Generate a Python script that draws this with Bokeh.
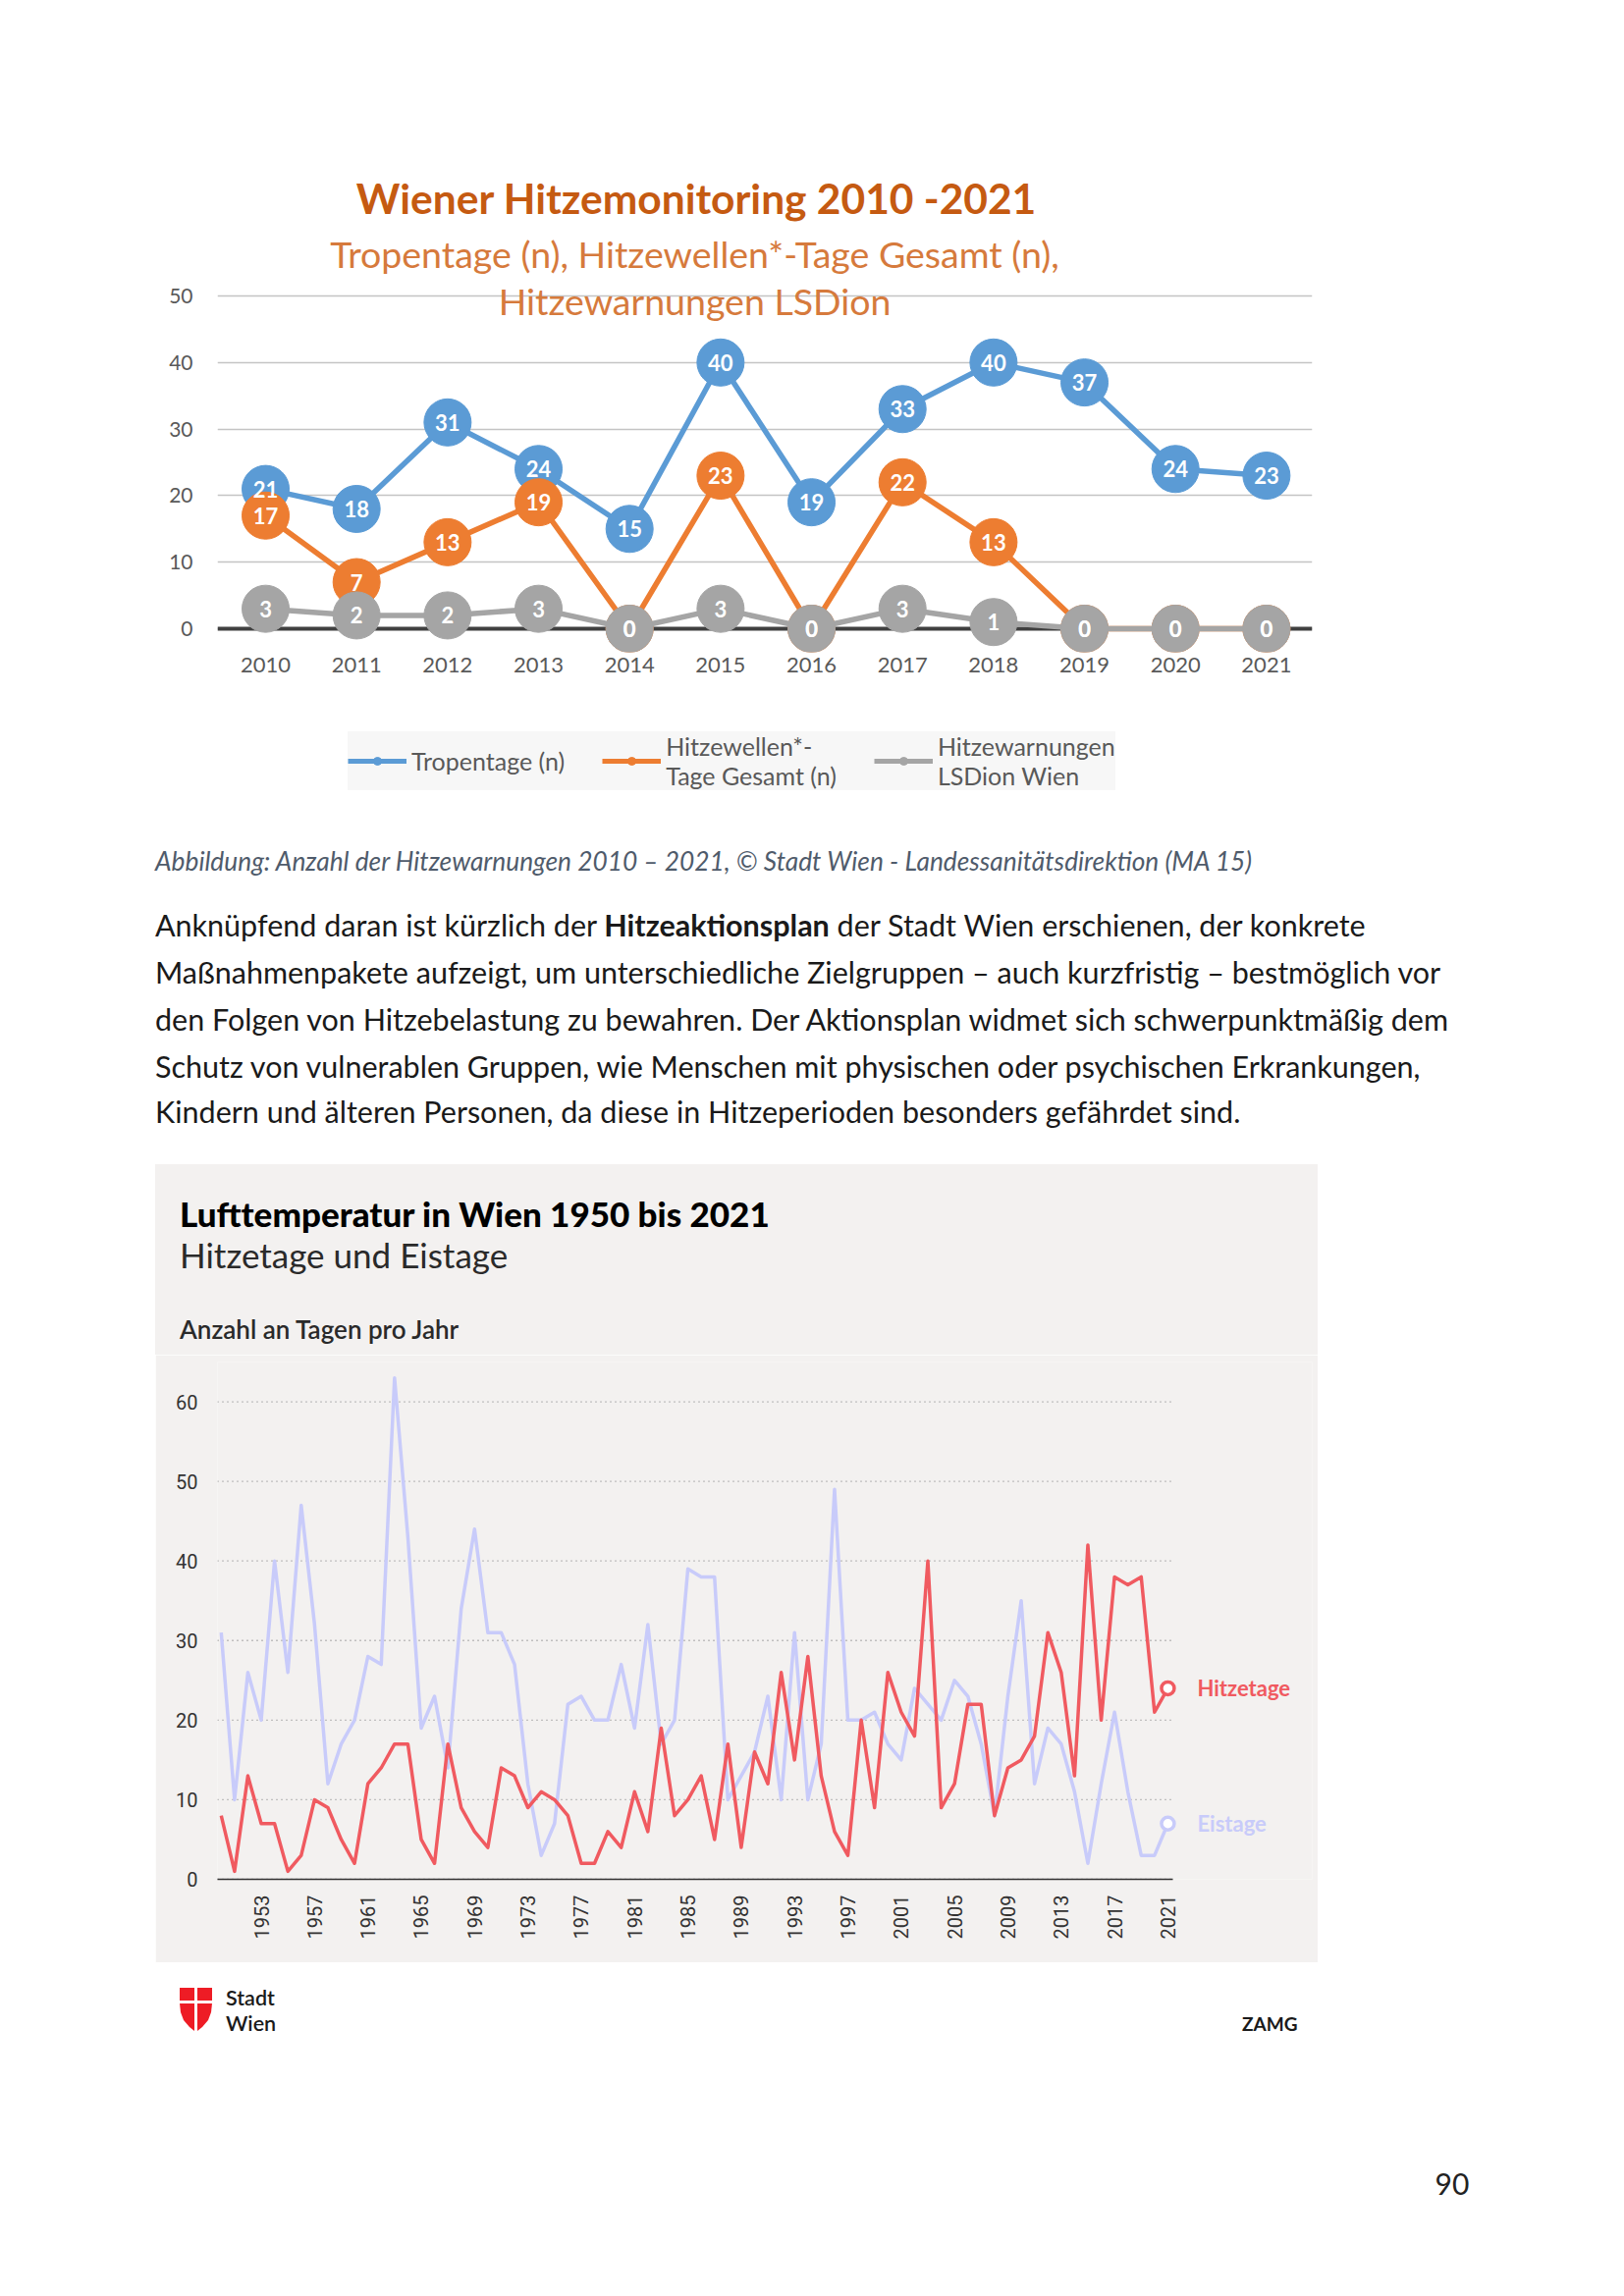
import math
from bokeh.plotting import figure
from bokeh.models import (Range1d, FixedTicker, Label, Span, Legend, LegendItem,
                          Spacer, ColumnDataSource, Div)
from bokeh.layouts import column, row
from bokeh.embed import file_html
from bokeh.resources import INLINE
from bokeh.core.properties import value

# ------------------------------------------------------------------ data
# Top chart: Wiener Hitzemonitoring 2010-2021
hm_years = [2010, 2011, 2012, 2013, 2014, 2015, 2016, 2017, 2018, 2019, 2020, 2021]
tropentage = [21, 18, 31, 24, 15, 40, 19, 33, 40, 37, 24, 23]
hitzewellen = [17, 7, 13, 19, 0, 23, 0, 22, 13, 0, 0, 0]
hitzewarnungen = [3, 2, 2, 3, 0, 3, 0, 3, 1, 0, 0, 0]
hm_yticks = [0, 10, 20, 30, 40, 50]

# Bottom chart: Hitzetage und Eistage 1950-2021
years = list(range(1950, 2022))
hitzetage = [8, 1, 13, 7, 7, 1, 3, 10, 9, 5,
             2, 12, 14, 17, 17, 5, 2, 17, 9, 6,
             4, 14, 13, 9, 11, 10, 8, 2, 2, 6,
             4, 11, 6, 19, 8, 10, 13, 5, 17, 4,
             16, 12, 26, 15, 28, 13, 6, 3, 20, 9,
             26, 21, 18, 40, 9, 12, 22, 22, 8, 14,
             15, 18, 31, 26, 13, 42, 20, 38, 37, 38,
             21, 24]
eistage = [31, 10, 26, 20, 40, 26, 47, 32, 12, 17,
           20, 28, 27, 63, 43, 19, 23, 14, 34, 44,
           31, 31, 27, 12, 3, 7, 22, 23, 20, 20,
           27, 19, 32, 17, 20, 39, 38, 38, 10, 13,
           16, 23, 10, 31, 10, 17, 49, 20, 20, 21,
           17, 15, 24, 22, 20, 25, 23, 17, 8, 23,
           35, 12, 19, 17, 11, 2, 12, 21, 11, 3,
           3, 7]
lt_xticks = [1953, 1957, 1961, 1965, 1969, 1973, 1977, 1981, 1985, 1989,
             1993, 1997, 2001, 2005, 2009, 2013, 2017, 2021]
lt_yticks = [0, 10, 20, 30, 40, 50, 60]

# ------------------------------------------------------------------ style
FONT = "Lato"
PAGE_W = 1640
BLUE, ORANGE, GRAY = "#5B9BD5", "#ED7D31", "#A5A5A5"
RED, LAV = "#F05A60", "#C8CBFA"
BOX_BG = "#F3F1F0"


def add_label(p, x, y, text, size, color, style="normal", align="left"):
    p.add_layout(Label(x=x, y=y, text=text, x_units="screen", y_units="screen",
                       text_font=FONT, text_font_size=f"{size}px",
                       text_font_style=style, text_color=color,
                       text_align=align, text_baseline="middle"))


def abs_text(x, cy, text, size, color="#1a1a1a", weight="normal", style="normal",
             lh=None, width=None, align="left"):
    lh = lh or round(size * 1.4)
    extra = f"width:{width}px;text-align:{align};" if width else ""
    return (f'<div style="position:absolute;left:{x}px;top:{cy - lh / 2:.1f}px;'
            f'line-height:{lh}px;font-family:{FONT};font-size:{size}px;'
            f'font-weight:{weight};font-style:{style};color:{color};'
            f'white-space:nowrap;{extra}">{text}</div>')


# ------------------------------------------------------------------ top chart
A_H = 700
A_L, A_R, A_T, A_B = 221, PAGE_W - 1336, 150, 36
pA = figure(width=PAGE_W, height=A_H, x_range=Range1d(2009.471, 2021.503),
            y_range=Range1d(-3.54, 72.27), output_backend="svg", toolbar_location=None,
            title=None, min_border_left=A_L, min_border_right=A_R,
            min_border_top=A_T, min_border_bottom=A_B)
pA.outline_line_color = None
pA.background_fill_color = "white"
pA.border_fill_color = "white"
pA.xgrid.visible = False
pA.yaxis.ticker = FixedTicker(ticks=hm_yticks)
pA.ygrid.grid_line_color = "#C4C4C4"
pA.ygrid.grid_line_width = 1.5
pA.xaxis.ticker = FixedTicker(ticks=hm_years)
for ax in (pA.xaxis[0], pA.yaxis[0]):
    ax.axis_line_color = None
    ax.major_tick_line_color = None
    ax.minor_tick_line_color = None
    ax.major_label_text_font = FONT
    ax.major_label_text_color = "#595959"
pA.yaxis.major_label_text_font_size = "21px"
pA.yaxis.major_label_standoff = 19
pA.xaxis.major_label_text_font_size = "22px"
pA.xaxis.major_label_standoff = -1

pA.add_layout(Span(location=0, dimension="width", line_color="#404040", line_width=4,
                   level="underlay"))

src = ColumnDataSource(dict(x=hm_years, t=tropentage, h=hitzewellen, w=hitzewarnungen,
                            tl=[str(v) for v in tropentage],
                            hl=[str(v) for v in hitzewellen],
                            wl=[str(v) for v in hitzewarnungen]))
series = [("t", "tl", BLUE, "Tropentage (n)"),
          ("h", "hl", ORANGE, "Hitzewellen*-\nTage Gesamt (n)"),
          ("w", "wl", GRAY, "Hitzewarnungen\nLSDion Wien")]
for col, _, colr, _ in series:
    pA.line("x", col, source=src, line_color=colr, line_width=5.5, line_join="round")
    pA.scatter("x", col, source=src, size=48, marker="circle",
               fill_color=colr, line_color=colr)
for col, lab, colr, _ in series:
    pA.text("x", col, text=lab, source=src, text_font=value(FONT), text_font_style="bold",
            text_font_size="22px", text_color="white", text_align="center",
            text_baseline="middle")

fb = A_H - A_B
add_label(pA, 709 - A_L, fb - 201, "Wiener Hitzemonitoring 2010 -2021", 42.5,
          "#C55A11", style="bold", align="center")
add_label(pA, 707 - A_L, fb - 258, "Tropentage (n), Hitzewellen*-Tage Gesamt (n),", 37.5,
          "#D67A3C", align="center")
add_label(pA, 707 - A_L, fb - 306, "Hitzewarnungen LSDion", 37.5, "#D67A3C", align="center")

# ------------------------------------------------------------------ legend strip of the top chart
# same series (same source) drawn outside this strip's visible range; only their legend keys show
L_H = 130
pL = figure(width=PAGE_W, height=L_H, x_range=Range1d(2009.471, 2021.503),
            y_range=Range1d(1000, 1001), x_axis_type=None, y_axis_type=None,
            output_backend="svg", toolbar_location=None, title=None,
            min_border_left=A_L, min_border_right=A_R, min_border_top=0, min_border_bottom=0)
pL.outline_line_color = None
pL.background_fill_color = "white"
pL.border_fill_color = "white"
items = []
for col, _, colr, name in series:
    ln = pL.line("x", col, source=src, line_color=colr, line_width=5, line_join="round")
    mk = pL.scatter("x", col, source=src, size=48, marker="circle",
                    fill_color=colr, line_color=colr)
    items.append(LegendItem(label=name, renderers=[ln, mk]))
legend = Legend(items=items, location=(133, 25), orientation="horizontal", glyph_width=60,
                glyph_height=20, label_standoff=5, spacing=38, padding=8, label_height=60,
                background_fill_color="#F7F7F7", background_fill_alpha=1.0,
                border_line_color=None, label_text_font=FONT, label_text_font_size="25px",
                label_text_color="#595959")
pL.add_layout(legend)

# ------------------------------------------------------------------ text block + chart header
M_TOP, M_H = 830, 550
caption = ("Abbildung: Anzahl der Hitzewarnungen 2010 \u2013 2021, \u00a9 Stadt Wien - "
           "Landessanit\u00e4tsdirektion (MA 15)")
para = [
    "Ankn\u00fcpfend daran ist k\u00fcrzlich der <b>Hitzeaktionsplan</b> der Stadt Wien erschienen, der konkrete",
    "Ma\u00dfnahmenpakete aufzeigt, um unterschiedliche Zielgruppen \u2013 auch kurzfristig \u2013 bestm\u00f6glich vor",
    "den Folgen von Hitzebelastung zu bewahren. Der Aktionsplan widmet sich schwerpunktm\u00e4\u00dfig dem",
    "Schutz von vulnerablen Gruppen, wie Menschen mit physischen oder psychischen Erkrankungen,",
    "Kindern und \u00e4lteren Personen, da diese in Hitzeperioden besonders gef\u00e4hrdet sind.",
]
para_cy = [942.6, 990.4, 1038.2, 1086.0, 1132.0]
parts = [f'<div style="position:relative;width:{PAGE_W}px;height:{M_H}px;margin:0;padding:0;">']
parts.append(abs_text(158, 877 - M_TOP, caption, 26.3, color="#4F5B6B", style="italic"))
for cy, line in zip(para_cy, para):
    parts.append(abs_text(158, cy - M_TOP, line, 30.5))
parts.append(f'<div style="position:absolute;left:158px;top:{1186 - M_TOP}px;width:1184px;'
             f'height:{M_H - (1186 - M_TOP)}px;background:{BOX_BG};"></div>')
parts.append(abs_text(183, 1236.5 - M_TOP, "Lufttemperatur in Wien 1950 bis 2021", 35,
                      color="#000000", weight="900"))
parts.append(abs_text(183, 1278 - M_TOP, "Hitzetage und Eistage", 35, color="#2a2a2a"))
parts.append(abs_text(183, 1354 - M_TOP, "Anzahl an Tagen pro Jahr", 26, color="#2a2a2a",
                      weight="600"))
parts.append("</div>")
mid = Div(text="".join(parts), width=PAGE_W, height=M_H, margin=0)

# ------------------------------------------------------------------ bottom chart
C_X, C_W, C_H = 158, 1184, 619
C_L, C_R, C_T, C_B = 63, 6, 7, 85
x_start = 1949.72
pC = figure(width=C_W, height=C_H, x_range=Range1d(x_start, 2031.83), y_range=Range1d(0, 65),
            output_backend="svg", toolbar_location=None, title=None,
            min_border_left=C_L, min_border_right=C_R, min_border_top=C_T,
            min_border_bottom=C_B)
pC.outline_line_color = None
pC.background_fill_color = BOX_BG
pC.border_fill_color = BOX_BG
pC.xgrid.visible = False
pC.ygrid.visible = False
pC.yaxis.ticker = FixedTicker(ticks=lt_yticks)
pC.xaxis.ticker = FixedTicker(ticks=lt_xticks)
grid_end = years[-1] + 0.4
pC.xaxis.bounds = (x_start, grid_end)
pC.yaxis.axis_line_color = None
pC.xaxis.axis_line_color = "#333333"
pC.xaxis.axis_line_width = 1.5
for ax in (pC.xaxis[0], pC.yaxis[0]):
    ax.major_tick_line_color = None
    ax.minor_tick_line_color = None
    ax.major_label_text_font = "Roboto"
    ax.major_label_text_font_size = "20px"
    ax.major_label_text_color = "#333333"
pC.yaxis.major_label_standoff = 14
pC.xaxis.major_label_orientation = math.pi / 2
pC.xaxis.major_label_standoff = 10

# dotted horizontal gridlines, ending just after the last year
pC.segment(x0=[x_start] * len(lt_yticks), x1=[grid_end] * len(lt_yticks),
           y0=lt_yticks, y1=lt_yticks, line_color="#8C8C8C", line_dash="1 4",
           line_width=1.3)

pC.line(years, eistage, line_color=LAV, line_width=3.5, line_join="round")
pC.line(years, hitzetage, line_color=RED, line_width=3.5, line_join="round")
pC.scatter([years[-1]], [eistage[-1]], size=13, marker="circle", fill_color="white",
           line_color=LAV, line_width=3.5)
pC.scatter([years[-1]], [hitzetage[-1]], size=13, marker="circle", fill_color="white",
           line_color=RED, line_width=3.5)
pC.add_layout(Label(x=years[-1], y=hitzetage[-1], x_offset=30, text="Hitzetage",
                    text_font=FONT, text_font_style="bold", text_font_size="22px",
                    text_color=RED, text_baseline="middle"))
pC.add_layout(Label(x=years[-1], y=eistage[-1], x_offset=30, text="Eistage",
                    text_font=FONT, text_font_style="bold", text_font_size="22px",
                    text_color=LAV, text_baseline="middle"))

# ------------------------------------------------------------------ footer
F_TOP, F_H = 1999, 330
logo = ('<svg style="position:absolute;left:0;top:0;" width="180" height="100">'
        '<g fill="#EE1C25">'
        '<polygon points="183,26 198,26 198,39 183,39"/>'
        '<polygon points="201,26 216,26 216,39 201,39"/>'
        '<polygon points="183,42 198,42 198,70 193,66 187,59 184,51"/>'
        '<polygon points="201,42 216,42 215,51 212,59 206,66 201,70"/>'
        '</g></svg>')
logo = logo.replace('width="180"', 'width="230"')
fparts = [f'<div style="position:relative;width:{PAGE_W}px;height:{F_H}px;margin:0;padding:0;">',
          logo,
          abs_text(230, 2035 - F_TOP, "Stadt", 21.5, weight="600", lh=25),
          abs_text(230, 2061 - F_TOP, "Wien", 21.5, weight="600", lh=25),
          abs_text(1265, 2061 - F_TOP, "ZAMG", 19, weight="bold"),
          abs_text(1429, 2224 - F_TOP, "90", 30, color="#222222", width=100, align="center"),
          "</div>"]
footer = Div(text="".join(fparts), width=PAGE_W, height=F_H, margin=0)

layout = column(pA, pL, mid, row(Spacer(width=C_X, height=C_H), pC), footer)
open("out.html", "w").write(file_html(layout, INLINE))
